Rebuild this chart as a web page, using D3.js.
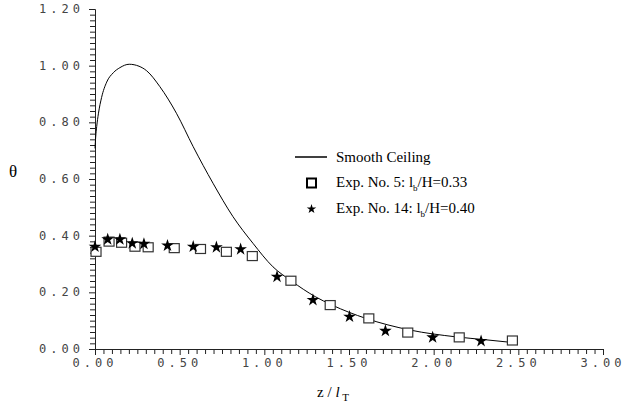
<!DOCTYPE html>
<html>
<head>
<meta charset="utf-8">
<style>
body {
  margin: 0;
  background: #fff;
}
svg {
  display: block;
}
.tickLabel {
  font-family: "DejaVu Sans Mono", monospace;
  font-size: 12px;
  letter-spacing: 4px;
  fill: #444;
}
.curve {
  fill: none;
  stroke: #000;
  stroke-width: 1;
}
.square {
  fill: #fff;
  stroke: #333;
  stroke-width: 1.2;
}
.star {
  fill: #000;
}
.serif {
  font-family: "Liberation Serif", "Times New Roman", serif;
  fill: #000;
}
</style>
</head>
<body>
<svg width="628" height="406"></svg>
<script src="https://d3js.org/d3.v7.min.js"></script>
<script>

// smooth ceiling curve
var curveX = [0, 0.004, 0.01, 0.02, 0.039, 0.069, 0.108, 0.147, 0.202, 0.26, 0.305, 0.383, 0.481, 0.58, 0.697, 0.815, 0.933, 1.051, 1.16, 1.30, 1.40, 1.60, 1.86, 2.13, 2.30, 2.48];
var curveY = [0.708, 0.748, 0.785, 0.83, 0.888, 0.942, 0.975, 0.993, 1.005, 0.998, 0.982, 0.926, 0.832, 0.714, 0.585, 0.467, 0.373, 0.29, 0.24, 0.185, 0.155, 0.108, 0.067, 0.043, 0.033, 0.022];

// Exp. No. 5 (squares)
var sqX = [0.006, 0.083, 0.157, 0.236, 0.314, 0.468, 0.623, 0.776, 0.929, 1.157, 1.389, 1.617, 1.847, 2.151, 2.465];
var sqY = [0.343, 0.379, 0.375, 0.361, 0.359, 0.356, 0.353, 0.343, 0.328, 0.241, 0.155, 0.108, 0.058, 0.041, 0.03];

// Exp. No. 14 (stars)
var stX = [0, 0.075, 0.147, 0.22, 0.289, 0.428, 0.58, 0.717, 0.86, 1.075, 1.287, 1.503, 1.715, 1.994, 2.28];
var stY = [0.361, 0.387, 0.387, 0.373, 0.371, 0.365, 0.361, 0.359, 0.352, 0.255, 0.173, 0.114, 0.064, 0.041, 0.028];

var xMajor = [0, 0.5, 1, 1.5, 2, 2.5, 3];
var yMajor = [0, 0.2, 0.4, 0.6, 0.8, 1.0, 1.2];

var svg = d3.select("svg"),
    fmt = d3.format(".2f");

var x = d3.scaleLinear().domain([0, 3]).range([95, 603]),
    y = d3.scaleLinear().domain([0, 1.2]).range([349, 9]);

var xMinor = d3.range(0, 60).map(i => i * 0.05).filter(v => xMajor.indexOf(+v.toFixed(2)) == -1),
    yMinor = d3.range(0, 60).map(i => i * 0.02).filter(v => yMajor.indexOf(+v.toFixed(2)) == -1);

// axes: minor ticks first, then majors on top
var xAxis = svg.append("g").attr("transform", "translate(0," + y(0) + ")");
xAxis.call(d3.axisBottom(x).tickValues(xMinor).tickSize(5).tickSizeOuter(0).tickFormat(""));
xAxis.append("g").call(d3.axisBottom(x).tickValues(xMajor).tickSize(6).tickSizeOuter(0).tickFormat(""));

var yAxis = svg.append("g").attr("transform", "translate(" + x(0) + ",0)");
yAxis.call(d3.axisLeft(y).tickValues(yMinor).tickSize(5).tickSizeOuter(0).tickFormat(""));
yAxis.append("g").call(d3.axisLeft(y).tickValues(yMajor).tickSize(6).tickSizeOuter(0).tickFormat(""));

svg.selectAll(".domain").attr("stroke", "#222");
svg.selectAll(".tick line").attr("stroke", "#222");

// tick labels
svg.append("g").selectAll("text")
  .data(yMajor)
  .join("text")
  .attr("class", "tickLabel")
  .attr("x", 84)
  .attr("y", d => y(d) + 4)
  .attr("text-anchor", "end")
  .text(fmt);

svg.append("g").selectAll("text")
  .data(xMajor)
  .join("text")
  .attr("class", "tickLabel")
  .attr("x", d => x(d))
  .attr("y", 367)
  .attr("text-anchor", "middle")
  .text(fmt);

// axis titles
svg.append("text")
  .attr("class", "serif")
  .attr("x", 13)
  .attr("y", 177)
  .attr("text-anchor", "middle")
  .style("font-size", "17px")
  .text("θ");

var xt = svg.append("text")
  .attr("class", "serif")
  .attr("x", 333)
  .attr("y", 397)
  .attr("text-anchor", "middle")
  .style("font-size", "15px");
xt.append("tspan").text("z / ");
xt.append("tspan").style("font-style", "italic").text("l");
xt.append("tspan").attr("dy", 4).style("font-size", "11px").text(" T");

// curve
var line = d3.line()
  .x(d => x(d[0]))
  .y(d => y(d[1]))
  .curve(d3.curveMonotoneX);

svg.append("path")
  .attr("class", "curve")
  .attr("d", line(d3.zip(curveX, curveY)));

// markers
var star = d3.symbol().type(d3.symbolStar);

svg.append("g").selectAll("rect")
  .data(d3.zip(sqX, sqY))
  .join("rect")
  .attr("class", "square")
  .attr("x", d => x(d[0]) - 5)
  .attr("y", d => y(d[1]) - 4.5)
  .attr("width", 10)
  .attr("height", 9);

svg.append("g").selectAll("path")
  .data(d3.zip(stX, stY))
  .join("path")
  .attr("class", "star")
  .attr("transform", d => "translate(" + x(d[0]) + "," + y(d[1]) + ")")
  .attr("d", star.size(50)());

// legend
var legend = svg.append("g");
legend.append("line")
  .attr("x1", 295).attr("x2", 327)
  .attr("y1", 157).attr("y2", 157)
  .attr("stroke", "#000").attr("stroke-width", 1.5);
legend.append("rect")
  .attr("x", 307).attr("y", 178.5)
  .attr("width", 9).attr("height", 9)
  .attr("fill", "#fff").attr("stroke", "#000").attr("stroke-width", 2);
legend.append("path")
  .attr("class", "star")
  .attr("transform", "translate(311.5,209)")
  .attr("d", star.size(28)());

function legendText(yPos, parts) {
  var t = legend.append("text")
    .attr("class", "serif")
    .attr("x", 336)
    .attr("y", yPos)
    .style("font-size", "15px");
  parts.forEach(p => {
    var s = t.append("tspan").text(p.t);
    if (p.sub) s.attr("dy", 4).style("font-size", "9px");
    if (p.up) s.attr("dy", -4);
  });
}

legendText(162, [{ t: "Smooth Ceiling" }]);
legendText(187, [{ t: "Exp. No. 5: l" }, { t: "b", sub: true }, { t: "/H=0.33", up: true }]);
legendText(213, [{ t: "Exp. No. 14: l" }, { t: "b", sub: true }, { t: "/H=0.40", up: true }]);
</script>
</body>
</html>
